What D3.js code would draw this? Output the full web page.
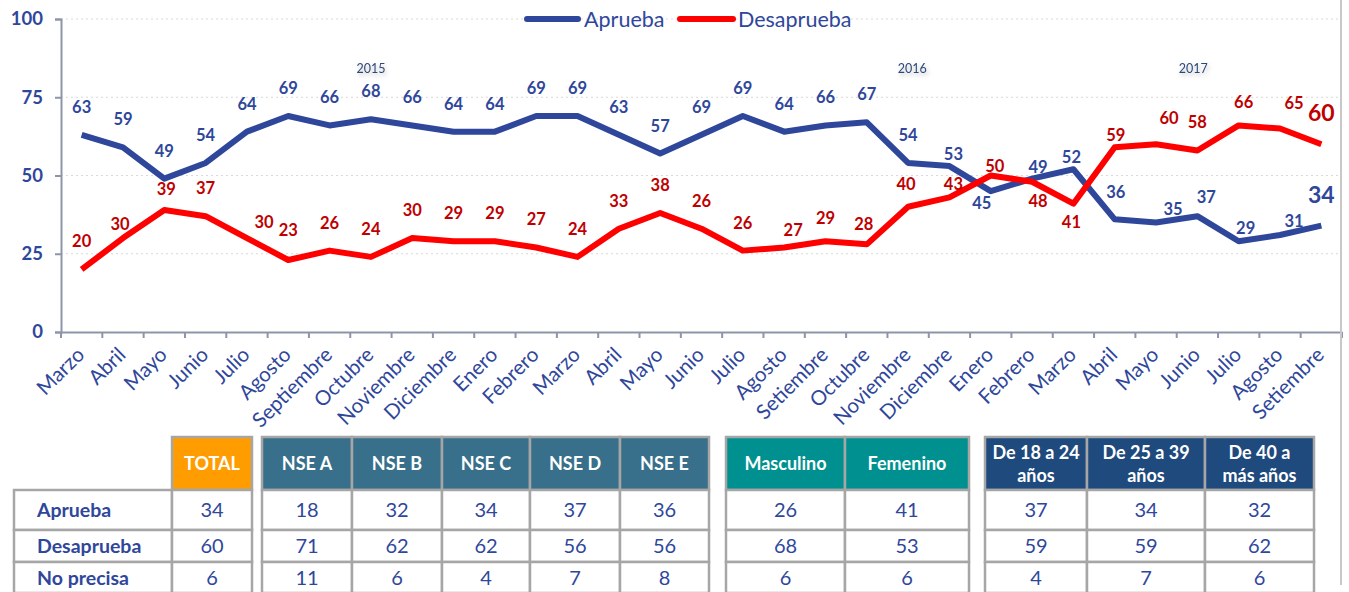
<!DOCTYPE html>
<html><head><meta charset="utf-8">
<script src="https://cdn.jsdelivr.net/npm/d3@7"></script>
<style>body{margin:0;background:#fff;overflow:hidden} svg{display:block;font-family:Lato,"Open Sans",sans-serif;}</style>
</head><body><svg id="c" width="1349" height="592"></svg>
<script>
// ---------- DATA ----------
const months = ["Marzo","Abril","Mayo","Junio","Julio","Agosto","Septiembre","Octubre","Noviembre","Diciembre",
  "Enero","Febrero","Marzo","Abril","Mayo","Junio","Julio","Agosto","Setiembre","Octubre","Noviembre","Diciembre",
  "Enero","Febrero","Marzo","Abril","Mayo","Junio","Julio","Agosto","Setiembre"];
const aprueba    = [63,59,49,54,64,69,66,68,66,64, 64,69,69,63,57,63,69,64,66,67,54,53, 45,49,52,36,35,37,29,31,34];
const aprLabels  = ["63","59","49","54","64","69","66","68","66","64","64","69","69","63","57","69","69","64","66","67","54","53","45","49","52","36","35","37","29","31","34"];
const desaprueba = [20,30,39,37,30,23,26,24,30,29, 29,27,24,33,38,33,26,27,29,28,40,43, 50,48,41,59,60,58,66,65,60];
const desLabels  = ["20","30","39","37","30","23","26","24","30","29","29","27","24","33","38","26","26","27","29","28","40","43","50","48","41","59","60","58","66","65","60"];
const yTicks = [0,25,50,75,100];
const years = ["2015","2016","2017"];
const yearAt = [7,20.1,26.9];
const seriesNames = ["Aprueba","Desaprueba"];

const rowNames = ["Aprueba","Desaprueba","No precisa"];
const headers = [["TOTAL"],["NSE A","NSE B","NSE C","NSE D","NSE E"],["Masculino","Femenino"],
  [["De 18 a 24","años"],["De 25 a 39","años"],["De 40 a","más años"]]];
const rowAprueba    = [34, 18,32,34,37,36, 26,41, 37,34,32];
const rowDesaprueba = [60, 71,62,62,56,56, 68,53, 59,59,62];
const rowNoPrecisa  = [6, 11,6,4,7,8, 6,6, 4,7,6];

// ---------- LAYOUT / STYLE ----------
const BLUE = "#2f479b", RED = "#ff0000", DRED = "#c00000";
const svg = d3.select("#c");
const x = d3.scaleBand().domain(d3.range(months.length)).range([61,1342]).padding(0);
const y = d3.scaleLinear().domain([0,100]).range([332,19]);
const cx = i => x(i) + x.bandwidth()/2;

const defs = svg.append("defs");
const f = defs.append("filter").attr("id","sh").attr("x","-20%").attr("y","-40%").attr("width","150%").attr("height","200%");
f.append("feDropShadow").attr("dx",1.5).attr("dy",2.5).attr("stdDeviation",2).attr("flood-color","#000").attr("flood-opacity",0.25);

// gridlines
svg.append("g").selectAll("line").data(yTicks.filter(d=>d>0)).join("line")
  .attr("x1",61).attr("x2",1338).attr("y1",d=>y(d)).attr("y2",d=>y(d))
  .attr("stroke","#d9d9d9").attr("stroke-width",1).attr("stroke-dasharray","2,3");

// y axis
const ya = svg.append("g").attr("transform","translate(61,0)").call(d3.axisLeft(y).tickValues(yTicks).tickSize(6).tickPadding(12));
ya.select(".domain").attr("stroke","#8d95ab").attr("stroke-width",2);
ya.selectAll(".tick line").attr("stroke","#8d95ab").attr("stroke-width",2);
ya.selectAll(".tick text").attr("fill",BLUE).attr("font-size",18.5).attr("font-weight","bold").attr("font-family","Lato");

// x axis
const xa = svg.append("g").attr("transform","translate(0,332)")
  .call(d3.axisBottom(x).tickSize(0).tickFormat(i=>months[i]));
xa.select(".domain").attr("stroke","#8d95ab").attr("stroke-width",2);
xa.selectAll(".tick text").attr("fill",BLUE).attr("font-size",20.5).attr("font-family","Lato")
  .attr("text-anchor","end").attr("dy",0).attr("y",0)
  .attr("transform","translate(4,24) rotate(-45)");
svg.append("g").selectAll("line").data(d3.range(months.length+1)).join("line")
  .attr("x1",i=> i<months.length ? x(i) : 1342).attr("x2",i=> i<months.length ? x(i) : 1342)
  .attr("y1",332).attr("y2",338).attr("stroke","#8d95ab").attr("stroke-width",2);

// year labels
svg.append("g").selectAll("text").data(years).join("text")
  .attr("x",(d,i)=>x(0)+x.bandwidth()*(yearAt[i]+0.5)).attr("y",73)
  .attr("text-anchor","middle").attr("font-size",12.5).attr("fill","#2c4a7a").attr("filter","url(#sh)").text(d=>d);

// lines
const line = d3.line().x((d,i)=>cx(i)).y(d=>y(d));
svg.append("path").datum(aprueba).attr("d",line).attr("fill","none").attr("stroke",BLUE).attr("stroke-width",6).attr("stroke-linejoin","round");
svg.append("path").datum(desaprueba).attr("d",line).attr("fill","none").attr("stroke",RED).attr("stroke-width",6).attr("stroke-linejoin","round");

// data labels
const blueNudge = {21:[4,-12],22:[-9,12],23:[6,-12],24:[-2,-12],25:[1,-27],26:[17,-13],27:[9,-19],28:[7,-13],29:[14,-14],30:[0,-31]};
const redNudge = {1:[-3,-14],2:[2,-21],4:[17,-16],5:[0,-30],17:[9,-17],18:[0,-23],19:[-3,-20],20:[-2,-23],21:[4,-13],
  22:[4,-9],23:[6,19],24:[-2,18],25:[1,-12],26:[13,-26],28:[5,-23],29:[14,-25],30:[0,-31]};
function labels(vals, texts, nudge, color){
  svg.append("g").selectAll("text").data(vals).join("text")
    .attr("x",(d,i)=>cx(i)+(nudge[i]?nudge[i][0]:0))
    .attr("y",(d,i)=>y(d)+(nudge[i]?nudge[i][1]:-28))
    .attr("dy","0.36em").attr("text-anchor","middle")
    .attr("font-weight","bold").attr("font-size",(d,i)=> i===vals.length-1 ? 23 : 16.5)
    .attr("fill",color).text((d,i)=>texts[i]);
}
labels(aprueba, aprLabels, blueNudge, BLUE);
labels(desaprueba, desLabels, redNudge, DRED);

// legend
const lg = svg.append("g");
[[527,578,BLUE,584],[680,733,RED,738]].forEach((p,i)=>{
  lg.append("line").attr("x1",p[0]).attr("x2",p[1]).attr("y1",19).attr("y2",19).attr("stroke",p[2]).attr("stroke-width",6).attr("stroke-linecap","round");
  lg.append("text").attr("x",p[3]).attr("y",27).attr("font-size",21.5).attr("fill",BLUE).text(seriesNames[i]);
});

// right border line
svg.append("line").attr("x1",1341).attr("x2",1341).attr("y1",0).attr("y2",585).attr("stroke","#c8c8c8").attr("stroke-width",2);

// ---------- TABLE ----------
const groupStart = [172,262,726,985];
const colWidths = [[80],[90,90,88,90,89],[119,124],[102,118,109]];
const groupColors = ["#ff9c00","#386f8a","#00908f","#1f4a7d"];
const rowsY = [490,530,562], rowsH = [40,32,31];
const headY = 437, headH = 53;
const GRID = "#a6a6a6";
const rows = [rowAprueba,rowDesaprueba,rowNoPrecisa];
const tg = svg.append("g");
// row label column
rowNames.forEach((r,ri)=>{
  tg.append("rect").attr("x",14).attr("y",rowsY[ri]).attr("width",158).attr("height",rowsH[ri]).attr("fill","#fff").attr("stroke",GRID).attr("stroke-width",2.5);
  tg.append("text").attr("x",37).attr("y",rowsY[ri]+rowsH[ri]/2).attr("dy","0.36em").attr("font-weight","bold").attr("font-size",19.5).attr("fill",BLUE).text(r);
});
let colIdx = 0;
headers.forEach((grp,gi)=>{
  let xx = groupStart[gi];
  grp.forEach((h,hi)=>{
    const w = colWidths[gi][hi];
    tg.append("rect").attr("x",xx).attr("y",headY).attr("width",w).attr("height",headH).attr("fill",groupColors[gi]).attr("stroke",GRID).attr("stroke-width",2.5);
    const t = tg.append("text").attr("x",xx+w/2).attr("text-anchor","middle").attr("font-weight","bold").attr("font-size",18).attr("fill","#fff");
    if (Array.isArray(h)) {
      t.append("tspan").attr("x",xx+w/2).attr("y",headY+16).attr("dy","0.36em").text(h[0]);
      t.append("tspan").attr("x",xx+w/2).attr("y",headY+39).attr("dy","0.36em").text(h[1]);
    } else t.attr("y",headY+headH/2).attr("dy","0.36em").text(h);
    rows.forEach((row,ri)=>{
      tg.append("rect").attr("x",xx).attr("y",rowsY[ri]).attr("width",w).attr("height",rowsH[ri]).attr("fill","#fff").attr("stroke",GRID).attr("stroke-width",2.5);
      tg.append("text").attr("x",xx+w/2).attr("y",rowsY[ri]+rowsH[ri]/2).attr("dy","0.36em").attr("text-anchor","middle")
        .attr("font-size",20).attr("fill",BLUE).text(row[colIdx]);
    });
    xx += w; colIdx++;
  });
});
</script></body></html>
